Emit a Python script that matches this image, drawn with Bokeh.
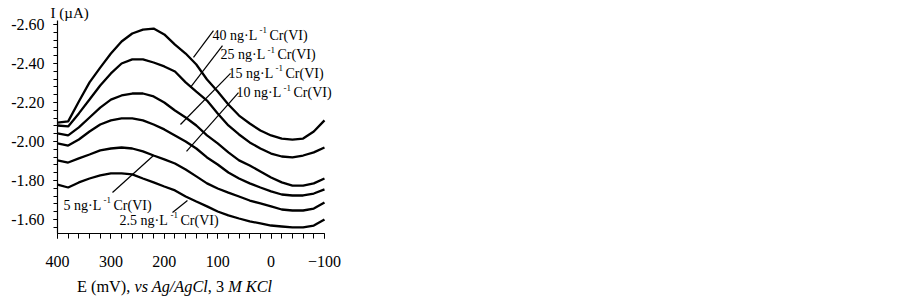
from bokeh.plotting import figure
from bokeh.models import Range1d, FixedTicker, NumeralTickFormatter, ColumnDataSource, Div
from bokeh.layouts import column
from bokeh.core.properties import value
from bokeh.embed import file_html
from bokeh.resources import INLINE

# Potential (mV vs Ag/AgCl, 3 M KCl)
E = [400, 380, 360, 340, 320, 300, 280, 260, 240, 220, 200, 180, 160,
     140, 120, 100, 80, 60, 40, 20, 0, -20, -40, -60, -80, -100]

# Current (uA) for each Cr(VI) concentration
I_40 = [-2.097, -2.103, -2.205, -2.303, -2.379, -2.451, -2.513, -2.554, -2.574, -2.579,
        -2.549, -2.497, -2.451, -2.395, -2.318, -2.256, -2.190, -2.133, -2.092, -2.056,
        -2.031, -2.015, -2.010, -2.015, -2.051, -2.108]
I_25 = [-2.082, -2.077, -2.144, -2.215, -2.287, -2.349, -2.400, -2.421, -2.421, -2.405,
        -2.385, -2.359, -2.303, -2.256, -2.210, -2.144, -2.082, -2.036, -1.995, -1.964,
        -1.938, -1.923, -1.918, -1.928, -1.944, -1.969]
I_15 = [-2.041, -2.031, -2.072, -2.123, -2.174, -2.215, -2.236, -2.246, -2.246, -2.231,
        -2.200, -2.159, -2.123, -2.082, -2.031, -1.990, -1.944, -1.903, -1.877, -1.846,
        -1.815, -1.790, -1.774, -1.774, -1.785, -1.810]
I_10 = [-1.990, -1.979, -2.010, -2.051, -2.087, -2.108, -2.118, -2.118, -2.108, -2.087,
        -2.062, -2.031, -2.000, -1.964, -1.918, -1.882, -1.841, -1.810, -1.785, -1.764,
        -1.744, -1.728, -1.723, -1.723, -1.733, -1.754]
I_5 = [-1.903, -1.892, -1.913, -1.933, -1.954, -1.964, -1.969, -1.964, -1.949, -1.928,
       -1.908, -1.887, -1.856, -1.821, -1.785, -1.759, -1.738, -1.718, -1.697, -1.682,
       -1.667, -1.651, -1.646, -1.646, -1.656, -1.687]
I_2_5 = [-1.779, -1.764, -1.790, -1.810, -1.826, -1.836, -1.836, -1.831, -1.810, -1.790,
         -1.769, -1.749, -1.718, -1.692, -1.667, -1.641, -1.621, -1.605, -1.590, -1.580,
         -1.569, -1.564, -1.559, -1.559, -1.569, -1.600]

series = [I_40, I_25, I_15, I_10, I_5, I_2_5]

# Labels
conc_labels = ["40 ng·L", "25 ng·L", "15 ng·L", "10 ng·L", "5 ng·L", "2.5 ng·L"]
sup_text = "-1"
species = "Cr(VI)"

x_ticks = [400, 300, 200, 100, 0, -100]
y_ticks = [-2.6, -2.4, -2.2, -2.0, -1.8, -1.6]

FONT = "Liberation Serif"

# frame extends a little past -100 so the "10 ng" label is not clipped;
# the x axis itself is bounded to 400 .. -100
p = figure(width=886, height=277, output_backend="svg", toolbar_location=None,
           x_range=Range1d(400, -130), y_range=Range1d(-1.528, -2.6205))
p.frame_width = 283
p.frame_height = 213
p.min_border_left = 57
p.min_border_right = 546
p.min_border_top = 20
p.min_border_bottom = 44
p.outline_line_color = None
p.xgrid.visible = False
p.ygrid.visible = False
p.background_fill_color = "white"
p.border_fill_color = "white"

# y-axis title at the top-left, horizontal
p.title.text = "I (µA)"
p.title.align = "left"
p.title.offset = -7
p.title.standoff = 0
p.title.text_font = FONT
p.title.text_font_size = "15px"
p.title.text_font_style = "normal"
p.title.text_color = "black"

# axes
p.xaxis.bounds = (-100, 400)
p.xaxis.ticker = FixedTicker(ticks=x_ticks, minor_ticks=list(range(400, -101, -20)))
p.yaxis.ticker = FixedTicker(ticks=y_ticks,
                             minor_ticks=[round(-2.60 + 0.04 * k, 2) for k in range(28)])
p.yaxis.formatter = NumeralTickFormatter(format="0.00")
for ax in (p.xaxis[0], p.yaxis[0]):
    ax.axis_line_color = "black"
    ax.axis_line_width = 1.2
    ax.major_tick_line_color = "black"
    ax.minor_tick_line_color = "black"
    ax.major_tick_in = 0
    ax.minor_tick_in = 0
    ax.major_label_text_font = FONT
    ax.major_label_text_font_size = "16px"
    ax.major_label_text_color = "black"
p.xaxis.major_tick_out = 5
p.xaxis.minor_tick_out = 5
p.xaxis.major_label_standoff = 17
p.yaxis.major_tick_out = 4
p.yaxis.minor_tick_out = 4
p.yaxis.major_label_standoff = 9

# curves
for s in series:
    p.line(E, s, line_color="black", line_width=2.3)

# leader lines (label -> curve)
lead = ColumnDataSource(dict(
    x0=[107.9, 91.0, 76.0, 61.0, 297.0, 184.6],
    y0=[-2.569, -2.492, -2.349, -2.251, -1.738, -1.636],
    x1=[145.3, 151.0, 169.7, 158.4, 220.2, 156.6],
    y1=[-2.431, -2.277, -2.087, -1.949, -1.928, -1.697],
))
p.segment("x0", "y0", "x1", "y1", source=lead, line_color="black", line_width=1.2)

# text labels
lab_x = [109.7, 94.8, 79.8, 64.8, 388.8, 283.9]
lab_y = [-2.544, -2.446, -2.349, -2.251, -1.672, -1.595]
sup_off = [47, 47, 47, 47, 40, 51]
sp_off = [57, 57, 57, 57, 50, 61]
src = ColumnDataSource(dict(x=lab_x, y=lab_y, t=conc_labels,
                            s=[sup_text] * 6, c=[species] * 6,
                            so=sup_off, co=sp_off))
p.text("x", "y", text="t", source=src, text_font=value(FONT), text_font_size="14px",
       text_baseline="middle", text_align="left", text_color="black")
p.text("x", "y", text="s", source=src, x_offset="so", y_offset=-5, text_font=value(FONT),
       text_font_size="9px", text_baseline="middle", text_align="left", text_color="black")
p.text("x", "y", text="c", source=src, x_offset="co", text_font=value(FONT),
       text_font_size="14px", text_baseline="middle", text_align="left", text_color="black")

# x-axis title with italic parts
xtitle = Div(
    text=('<div style="font-family:\'Liberation Serif\';font-size:16.3px;line-height:20px;'
          'color:black;white-space:nowrap;padding-left:77px;">'
          'E (mV), <i>vs Ag/AgCl</i>, 3 <i>M KCl</i></div>'),
    width=400, height=20, margin=(0, 0, 0, 0))

layout = column(p, xtitle, spacing=0)
open("out.html", "w").write(file_html(layout, INLINE))
